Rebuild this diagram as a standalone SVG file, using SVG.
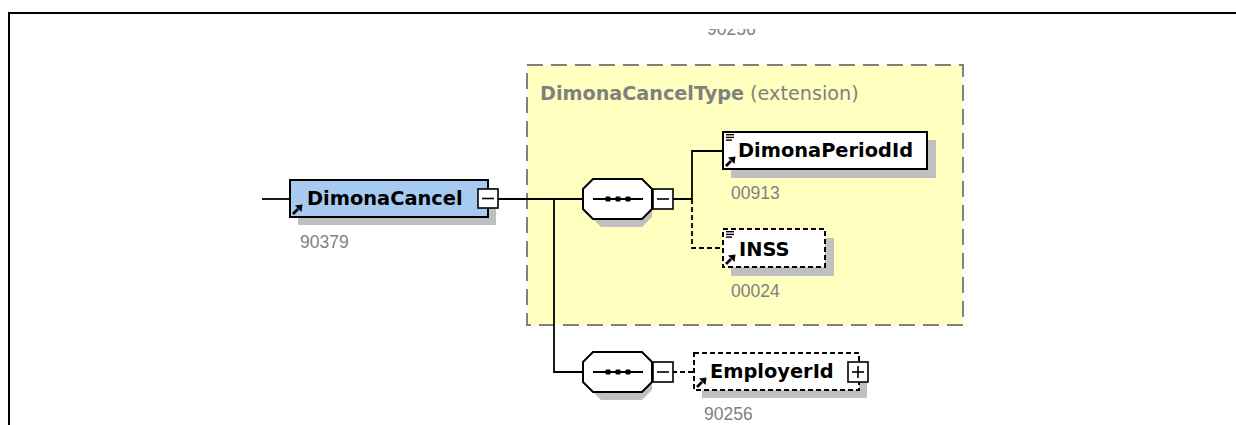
<svg xmlns="http://www.w3.org/2000/svg" xmlns:xlink="http://www.w3.org/1999/xlink" width="1236" height="425" viewBox="0 0 1236 425">
<style>
.name{font-family:"DejaVu Sans",sans-serif;font-weight:bold;font-size:19.4px;fill:#000}
.num{font-family:"Liberation Sans",Arial,sans-serif;font-size:17.5px;fill:#808080}
.title{font-family:"DejaVu Sans",sans-serif;font-size:19.2px;fill:#808080}
.shadow{fill:#c0c0c0;stroke:none}
.box{stroke:#000;stroke-width:2}
.opt{stroke-dasharray:5 3}
.line{fill:none;stroke:#000;stroke-width:1.8}
.dline{fill:none;stroke:#000;stroke-width:1.8;stroke-dasharray:5 3}
.btn{fill:#fff;stroke:#000;stroke-width:1.6}
</style>
<defs>
<g id="refArrow">
<line x1="3" y1="-3" x2="8" y2="-8" stroke="#000" stroke-width="2.6"/>
<polygon points="12.5,-12.5 5,-11.5 11.5,-5" fill="#000"/>
</g>
<g id="simpleIcon" stroke="#000" stroke-width="1.4">
<line x1="3" y1="2.7" x2="11" y2="2.7"/>
<line x1="3" y1="5.4" x2="11" y2="5.4"/>
<line x1="3" y1="8.1" x2="9" y2="8.1"/>
</g>
<g id="seq">
<polygon class="shadow" points="18,8 59,8 69,18 69,38 59,48 18,48 8,38 8,18"/>
<polygon points="10,0 59,0 69,10 69,30 59,40 10,40 0,30 0,10" fill="#fff" stroke="#000" stroke-width="2"/>
<line x1="10" y1="20" x2="60" y2="20" stroke="#000" stroke-width="1.8"/>
<rect x="22.5" y="17.5" width="5" height="5" rx="1"/>
<rect x="32.5" y="17.5" width="5" height="5" rx="1"/>
<rect x="42.5" y="17.5" width="5" height="5" rx="1"/>
<rect x="70" y="10" width="20" height="20" class="btn"/>
<line x1="74" y1="20" x2="86" y2="20" stroke="#000" stroke-width="1.6"/>
</g>
<clipPath id="topClip"><rect x="0" y="29" width="1236" height="396"/></clipPath>
</defs>

<rect x="0" y="0" width="1236" height="425" fill="#fff"/>
<path d="M9 425 V13 H1236" fill="none" stroke="#000" stroke-width="2"/>

<text class="num" x="707" y="35" clip-path="url(#topClip)">90256</text>

<g id="DimonaCancelType">
<rect x="527" y="65" width="436" height="260" fill="#ffffc0" stroke="#808080" stroke-width="2" stroke-dasharray="16 8"/>
<text x="540" y="100"><tspan class="title" font-weight="bold">DimonaCancelType</tspan><tspan class="title"> (extension)</tspan></text>
</g>

<g id="connectors">
<line class="line" x1="262" y1="199" x2="290" y2="199"/>
<polyline class="line" points="498,199 583,199"/>
<polyline class="line" points="554,199 554,372 583,372"/>
<polyline class="line" points="673,199 692,199 692,151 723,151"/>
<polyline class="dline" points="692,199 692,248 723,248"/>
<polyline class="dline" points="672,372 694,372"/>
</g>

<g id="DimonaCancel">
<rect class="shadow" x="298" y="188" width="198" height="37"/>
<rect class="box" x="290" y="180" width="198" height="37" fill="#a6caf0"/>
<use xlink:href="#refArrow" x="290" y="217"/>
<text class="name" x="307" y="205">DimonaCancel</text>
<rect class="btn" x="478" y="189" width="20" height="19"/>
<line x1="482" y1="198.5" x2="494" y2="198.5" stroke="#000" stroke-width="1.6"/>
<text class="num" x="300" y="248">90379</text>
</g>

<g id="seq1">
<use xlink:href="#seq" x="583" y="179"/>
</g>

<g id="DimonaPeriodId">
<rect class="shadow" x="731" y="140" width="205" height="38"/>
<rect class="box" x="723" y="132" width="204" height="37" fill="#fff"/>
<use xlink:href="#simpleIcon" x="723" y="132"/>
<use xlink:href="#refArrow" x="723" y="169"/>
<text class="name" x="738" y="157">DimonaPeriodId</text>
<text class="num" x="731" y="199">00913</text>
</g>

<g id="INSS">
<rect class="shadow" x="731" y="238" width="103" height="38"/>
<rect class="box opt" x="723" y="229" width="102" height="38" fill="#fff"/>
<use xlink:href="#simpleIcon" x="723" y="229"/>
<use xlink:href="#refArrow" x="723" y="267"/>
<text class="name" x="739" y="256">INSS</text>
<text class="num" x="731" y="297">00024</text>
</g>

<g id="seq2">
<use xlink:href="#seq" x="583" y="352"/>
</g>

<g id="EmployerId">
<rect class="shadow" x="702" y="361" width="165" height="37"/>
<rect class="box opt" x="694" y="353" width="165" height="37" fill="#fff"/>
<use xlink:href="#refArrow" x="694" y="390"/>
<text class="name" x="710" y="378">EmployerId</text>
<rect class="btn" x="848" y="362" width="20" height="20"/>
<line x1="852" y1="372" x2="864" y2="372" stroke="#000" stroke-width="1.6"/>
<line x1="858" y1="366" x2="858" y2="378" stroke="#000" stroke-width="1.6"/>
<text class="num" x="704" y="420">90256</text>
</g>
</svg>
